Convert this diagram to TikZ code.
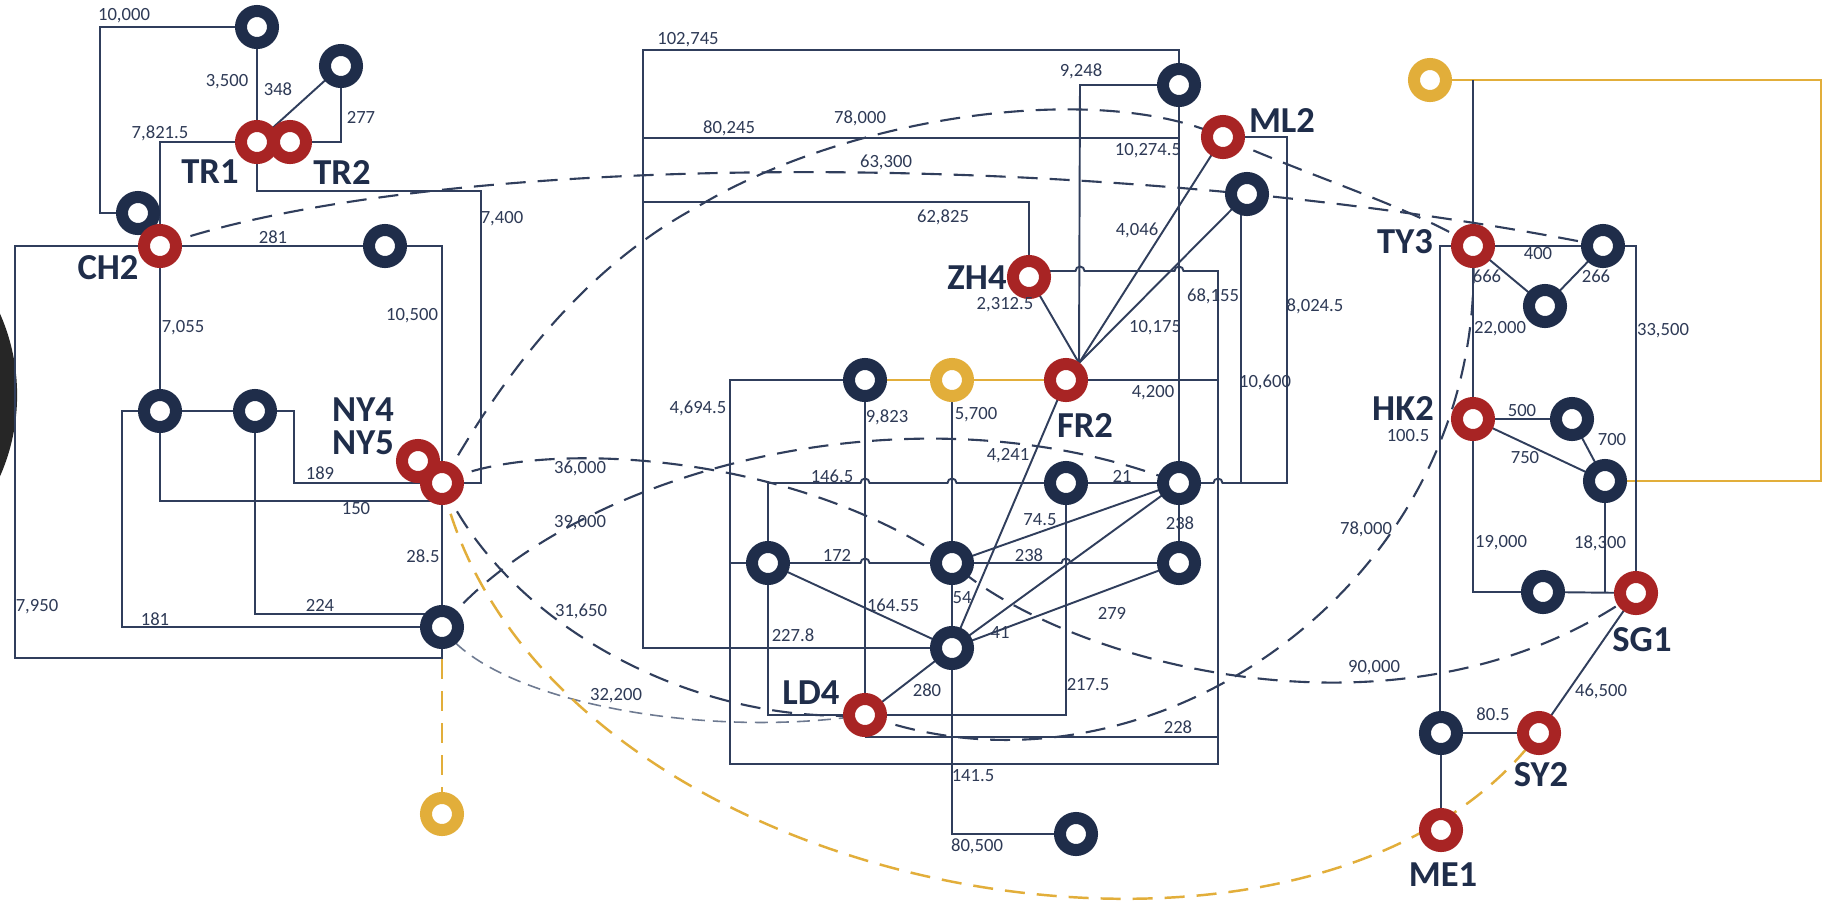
\documentclass[tikz,border=0pt]{standalone}
\usepackage{fontspec}
\setmainfont{Carlito}
\usetikzlibrary{calc}
\definecolor{navy}{RGB}{31,45,74}
\definecolor{rred}{RGB}{168,36,36}
\definecolor{ylw}{RGB}{226,174,58}
\definecolor{linec}{RGB}{48,62,92}
\definecolor{txtc}{RGB}{46,58,86}
\definecolor{lightd}{RGB}{110,122,145}
\definecolor{blk}{RGB}{38,38,38}
\pgfdeclarelayer{bgzero}
\pgfdeclarelayer{background}
\pgfsetlayers{bgzero,background,main}
\tikzset{
 ring/.style={circle, draw=#1, line width=0.12cm, fill=white, minimum size=0.32cm, inner sep=0pt},
 nv/.style={ring=navy}, rd/.style={ring=rred}, yl/.style={ring=ylw},
 ln/.style={draw=linec, line width=0.55pt},
 dl/.style={draw=linec, line width=0.6pt, dash pattern=on 0.2cm off 0.12cm},
 dlt/.style={draw=lightd, line width=0.45pt, dash pattern=on 0.13cm off 0.08cm},
 yd/.style={draw=ylw, line width=0.7pt, dash pattern=on 0.2cm off 0.12cm},
 ys/.style={draw=ylw, line width=0.8pt},
 num/.style={font=\fontsize{5.3pt}{6pt}\selectfont, text=txtc, inner sep=0pt},
 city/.style={font=\fontsize{10.4pt}{12pt}\selectfont\bfseries, text=navy, inner sep=0pt},
}
\newcommand{\nlab}[3]{\node[num] (#1) at (#2) {#3};}
\newcommand{\clab}[3]{\node[city] (#1) at (#2) {#3};}
\begin{document}
\begin{tikzpicture}[x=0.01cm,y=-0.01cm]
\useasboundingbox (0,0) rectangle (1823,911);
\begin{pgfonlayer}{bgzero}
\fill[white] (0,0) rectangle (1823,911);
\fill[blk] (-184,395) circle[radius=2.01cm];
\end{pgfonlayer}

% ---------- nodes ----------
\node[nv] (T1) at (257,27) {};
\node[nv] (T2) at (341,66) {};
\node[rd] (TR1) at (257,142) {};
\node[rd] (TR2) at (290,142) {};
\node[nv] (CHd) at (138,213) {};
\node[rd] (CH2) at (160,246) {};
\node[nv] (N281) at (385,246) {};
\node[nv] (A) at (160,411) {};
\node[nv] (B) at (255,411) {};
\node[rd] (NY4) at (418,461) {};
\node[rd] (NY5) at (442,483) {};
\node[nv] (C) at (442,627) {};
\node[yl] (Y1) at (442,814) {};

\node[nv] (D1) at (1179,85) {};
\node[rd] (ML2) at (1223,137) {};
\node[nv] (D2) at (1247,194) {};
\node[rd] (ZH4) at (1029,277) {};
\node[nv] (Dm1) at (865,380) {};
\node[yl] (Ym) at (952,380) {};
\node[rd] (FR2) at (1066,380) {};
\node[nv] (Nmid) at (1066,483) {};
\node[nv] (Nright) at (1179,483) {};
\node[nv] (Nl) at (768,563) {};
\node[nv] (Ncent) at (952,563) {};
\node[nv] (Nr2) at (1179,563) {};
\node[nv] (Nbot) at (952,648) {};
\node[rd] (LD4) at (865,715) {};
\node[nv] (Nb2) at (1076,834) {};

\node[yl] (Yr) at (1430,80) {};
\node[rd] (TY3) at (1473,246) {};
\node[nv] (TY3b) at (1603,246) {};
\node[nv] (TYm) at (1545,306) {};
\node[rd] (HK2) at (1473,419) {};
\node[nv] (HKd1) at (1572,419) {};
\node[nv] (HKr) at (1605,481) {};
\node[nv] (SGd) at (1543,592) {};
\node[rd] (SG1) at (1636,593) {};
\node[nv] (MEd) at (1441,733) {};
\node[rd] (SY2) at (1539,733) {};
\node[rd] (ME1) at (1441,830) {};

\coordinate (FRh) at (1079,363);
\coordinate (k1) at (643,138);
\coordinate (k2) at (1179,138);
\coordinate (k3) at (643,202);
\coordinate (k4) at (1218,380);
\coordinate (k5) at (1241,483);
\coordinate (k6) at (730,563);
\coordinate (k7) at (1218,737);

% ---------- connectors ----------
\begin{pgfonlayer}{background}
% left cluster
\draw[ln] (T1.center) -- (100,27) -- (100,213) -- (CHd.center);
\draw[ln] (T1.center) -- (TR1.center);
\draw[ln] (TR1.center) -- (T2.center);
\draw[ln] (TR2.center) -| (T2.center);
\draw[ln] (TR1.center) -| (CH2.center);
\draw[ln] (TR1.center) -- (257,191) -- (481,191) |- (NY5.center);
\draw[ln] (CH2.center) -- (N281.center);
\draw[ln] (N281.center) -| (NY5.center);
\draw[ln] (CH2.center) -- (A.center);
\draw[ln] (CH2.center) -- (15,246) -- (15,658) -| (C.center);
\draw[ln] (A.center) -- (B.center);
\draw[ln] (B.center) -- (294,411) |- (NY5.center);
\draw[ln] (A.center) |- ([yshift=-0.18cm]NY5.center);
\draw[ln] (A.center) -- (122,411) |- (C.center);
\draw[ln] (B.center) |- ([yshift=0.13cm]C.center);
\draw[ln] (NY5.center) -- (C.center);
\draw[yd] (C.center) -- (Y1.center);

% middle cluster
\draw[ln] (Nbot.center) -- (643,648) -- (643,50) -| (D1.center);
\draw[ln] (k1) -- (k2);
\draw[ln] (k3) -| (ZH4.center);
\draw[ln] (D1.center) -- (1080,85) -- (FRh);
\draw[ln] ([yshift=0.06cm]ZH4.center) -- (1075.5,271) arc[start angle=180,end angle=0,radius=0.045cm]
   -- (1174.5,271) arc[start angle=180,end angle=0,radius=0.045cm]
   -- (1218,271) -- (1218,764) -- (730,764) -- (730,380) -- (Dm1.center);
\draw[ln] (ML2.center) -- (FRh);
\draw[ln] (D2.center) -- (FRh);
\draw[ln] (ZH4.center) -- (FRh);
\draw[ln] (D1.center) -- (Nright.center);
\draw[ln] (ML2.center) -- (1287,137) -- (1287,483) -- (1222.5,483) arc[start angle=0,end angle=180,radius=0.045cm] -- (Nright.center);
\draw[ln] ([xshift=-0.06cm]D2.center) -- (k5);
\draw[ln] (FR2.center) -- (k4);
\draw[ln] (FR2.center) -- (Nbot.center);
\draw[ys] (Dm1.center) -- (Ym.center) -- (FR2.center);
\draw[ln] (Dm1.center) -- (LD4.center);
\draw[ln] (Ym.center) -- (Ncent.center);
\draw[ln] (Nl.center) |- (860.5,483) arc[start angle=180,end angle=0,radius=0.045cm]
   -- (947.5,483) arc[start angle=180,end angle=0,radius=0.045cm] -- (Nmid.center);
\draw[ln] (Nmid.center) -- (Nright.center);
\draw[ln] (k6) -- (Nl.center);
\draw[ln] (Nl.center) -- (860.5,563) arc[start angle=180,end angle=0,radius=0.045cm] -- (Ncent.center);
\draw[ln] (Ncent.center) -- (1061.5,563) arc[start angle=180,end angle=0,radius=0.045cm] -- (Nr2.center);
\draw[ln] (Nright.center) -- (Nr2.center);
\draw[ln] (Ncent.center) -- (Nright.center);
\draw[ln] (Nl.center) -- (Nbot.center);
\draw[ln] (Ncent.center) -- (Nbot.center);
\draw[ln] (Nbot.center) -- (Nright.center);
\draw[ln] (Nbot.center) -- (Nr2.center);
\draw[ln] (Nl.center) |- (LD4.center);
\draw[ln] (Nmid.center) |- (LD4.center);
\draw[ln] (LD4.center) -- (Nbot.center);
\draw[ln] ([yshift=-0.22cm]LD4.center) -- (k7);
\draw[ln] (Nbot.center) |- (Nb2.center);

% right cluster
\draw[ys] (Yr.center) -- (1821,80) -- (1821,481) -- (HKr.center);
\draw[ln] (TY3.center) -- (TY3.center |- Yr.center);
\draw[ln] (TY3.center) -- (TY3b.center);
\draw[ln] (TY3.center) -- (TYm.center) -- (TY3b.center);
\draw[ln] (TY3.center) -- (1440,246) |- (MEd.center);
\draw[ln] (TY3b.center) -| (SG1.center);
\draw[ln] (TY3.center) -- (HK2.center);
\draw[ln] (HK2.center) -- (HKd1.center) -- (HKr.center) -- (HK2.center);
\draw[ln] (HK2.center) |- (SGd.center);
\draw[ln] (SGd.center) -- (SG1.center);
\draw[ln] (HKr.center) -- (HKr.center |- SG1.center);
\draw[ln] (SG1.center) -- (SY2.center);
\draw[ln] (MEd.center) -- (SY2.center);
\draw[ln] (MEd.center) -- (ME1.center);

% dashed long-haul links
\draw[dl] (NY5.center) .. controls (500,380) and (580,270) .. (697,207)
   .. controls (850,115) and (1100,80) .. (ML2.center)
   .. controls (1300,173) and (1420,210) .. (TY3.center);
\draw[dl] (CH2.center) .. controls (430,150) and (1100,145) .. (TY3b.center);
\draw[dl] (C.center) .. controls (560,480) and (900,375) .. (Nright.center);
\draw[dl] (NY5.center) .. controls (520,440) and (780,445) .. (Ncent.center)
   .. controls (1060,660) and (1400,760) .. (SG1.center);
\draw[dl] (NY5.center) .. controls (510,630) and (700,725) .. (LD4.center);
\draw[dl] (LD4.center) .. controls (1150,820) and (1490,580) .. (TY3.center);
\draw[dlt] (C.center) .. controls (490,700) and (700,740) .. (LD4.center);
\draw[yd] (NY5.center) .. controls (540,900) and (1310,1040) .. (SY2.center);
\end{pgfonlayer}

% ---------- number labels ----------
\nlab{l1}{124,16}{10,000}
\nlab{l2}{227,82}{3,500}
\nlab{l3}{278,89}{348}
\nlab{l4}{361,117}{277}
\nlab{l5}{160,133}{7,821.5}
\nlab{l6}{502,219}{7,400}
\nlab{l7}{273,237}{281}
\nlab{l8}{412,316}{10,500}
\nlab{l9}{183,328}{7,055}
\nlab{l10}{320,473}{189}
\nlab{l11}{356,509}{150}
\nlab{l12}{423,556}{28.5}
\nlab{l13}{320,605}{224}
\nlab{l14}{155,619}{181}
\nlab{l15}{37,607}{7,950}
\nlab{l16}{580,468}{36,000}
\nlab{l17}{580,523}{39,000}
\nlab{l18}{581,611}{31,650}
\nlab{l19}{616,696}{32,200}
\nlab{l20}{688,40}{102,745}
\nlab{l21}{1081,71}{9,248}
\nlab{l22}{860,118}{78,000}
\nlab{l23}{729,128}{80,245}
\nlab{l24}{886,162}{63,300}
\nlab{l25}{943,217}{62,825}
\nlab{l26}{1148,151}{10,274.5}
\nlab{l27}{1137,230}{4,046}
\nlab{l28}{1005,305}{2,312.5}
\nlab{l29}{1213,296}{68,155}
\nlab{l30}{1315,306}{8,024.5}
\nlab{l31}{1155,328}{10,175}
\nlab{l32}{1153,393}{4,200}
\nlab{l33}{1265,382}{10,600}
\nlab{l34}{698,408}{4,694.5}
\nlab{l35}{887,417}{9,823}
\nlab{l36}{976,415}{5,700}
\nlab{l37}{1008,456}{4,241}
\nlab{l38}{832,476}{146.5}
\nlab{l39}{1122,476}{21}
\nlab{l40}{837,555}{172}
\nlab{l41}{1029,555}{238}
\nlab{l42}{1180,523}{238}
\nlab{l43}{1040,520}{74.5}
\nlab{l44}{893,605}{164.55}
\nlab{l45}{962,598}{54}
\nlab{l46}{1000,632}{41}
\nlab{l47}{1112,613}{279}
\nlab{l48}{793,635}{227.8}
\nlab{l49}{927,690}{280}
\nlab{l50}{1088,685}{217.5}
\nlab{l51}{1178,727}{228}
\nlab{l52}{973,776}{141.5}
\nlab{l53}{977,846}{80,500}
\nlab{l54}{1538,254}{400}
\nlab{l55}{1487,276}{666}
\nlab{l56}{1596,276}{266}
\nlab{l57}{1500,329}{22,000}
\nlab{l58}{1663,331}{33,500}
\nlab{l59}{1522,411}{500}
\nlab{l60}{1612,440}{700}
\nlab{l61}{1525,458}{750}
\nlab{l62}{1408,436}{100.5}
\nlab{l63}{1366,529}{78,000}
\nlab{l64}{1501,543}{19,000}
\nlab{l65}{1600,543}{18,300}
\nlab{l66}{1374,668}{90,000}
\nlab{l67}{1601,691}{46,500}
\nlab{l68}{1493,714}{80.5}

% ---------- site labels ----------
\clab{c1}{210,172}{TR1}
\clab{c2}{342,172}{TR2}
\clab{c3}{108,268}{CH2}
\clab{c4}{363,410}{NY4}
\clab{c5}{363,443}{NY5}
\clab{c6}{977,278}{ZH4}
\clab{c7}{1282,120}{ML2}
\clab{c8}{1085,425}{FR2}
\clab{c9}{811,693}{LD4}
\clab{c10}{1405,242}{TY3}
\clab{c11}{1403,408}{HK2}
\clab{c12}{1642,640}{SG1}
\clab{c13}{1541,775}{SY2}
\clab{c14}{1443,875}{ME1}
\end{tikzpicture}
\end{document}
